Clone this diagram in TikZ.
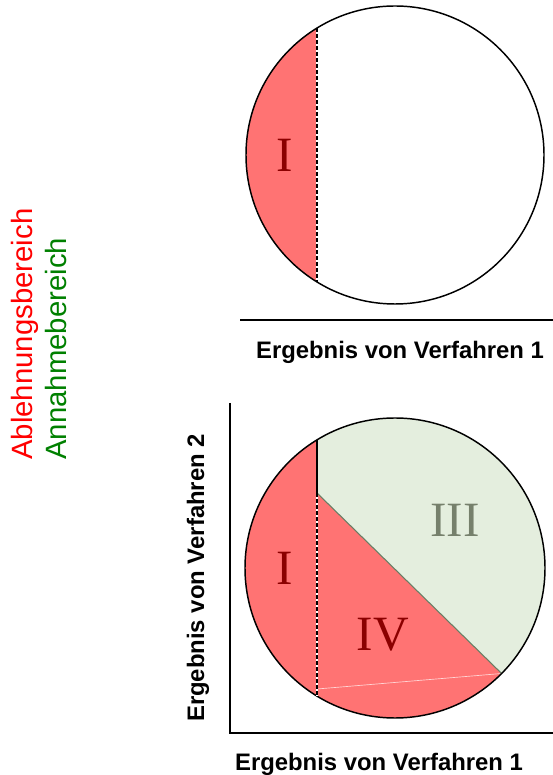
\documentclass[tikz,border=0pt]{standalone}
\usepackage{fontspec}
\setmainfont{Liberation Serif}
\newfontfamily\arial{Liberation Sans}
\definecolor{rejred}{RGB}{255,115,115}
\definecolor{accgreen}{RGB}{228,238,222}
\definecolor{numred}{RGB}{139,0,0}
\definecolor{numgray}{RGB}{118,128,108}
\definecolor{diagcol}{RGB}{105,125,100}
\definecolor{labred}{RGB}{255,0,0}
\definecolor{labgreen}{RGB}{0,128,0}
\begin{document}
\begin{tikzpicture}[x=0.75pt, y=0.75pt,
    numlabel/.style={font=\fontsize{37}{37}\selectfont, inner sep=0pt},
    axislabel/.style={font=\arial\bfseries\fontsize{17.9}{18}\selectfont, inner sep=0pt, anchor=base},
    sidelabel/.style={font=\arial\fontsize{22}{22}\selectfont, rotate=90, anchor=base west, inner sep=0pt},
    rim/.style={line width=1.1pt},
    axisline/.style={line width=1.5pt},
    cutline/.style={line width=1.4pt, dash pattern=on 3pt off 1.5pt}]
\useasboundingbox (0,0) rectangle (553,775);
% side labels
\node[sidelabel, text=labred] (ablehn) at (33,315) {Ablehnungsbereich};
\node[sidelabel, text=labgreen] (annahme) at (67,315) {Annahmebereich};
% upper picture: one test
\coordinate (c1) at (395,620);
\coordinate (top1) at (317,747.1);
\coordinate (bot1) at (317,492.9);
\fill[rejred] (top1) arc [start angle=121.57, end angle=238.43, radius=149] -- cycle;
\draw[rim] (c1) circle [radius=149];
\draw[white, line width=1.4pt] (top1) -- (bot1);
\draw[cutline] (top1) -- (bot1);
\node[numlabel, text=numred] (regIa) at (285,620) {I};
\coordinate (ax1l) at (240,455);
\coordinate (ax1r) at (553,455);
\draw[axisline] (ax1l) -- (ax1r);
\node[axislabel] (xlab1) at (400,416) {Ergebnis von Verfahren 1};
% lower picture: two tests
\coordinate (c2) at (395,207);
\coordinate (top2) at (317,335.1);
\coordinate (knick) at (317,282);
\coordinate (bot2) at (317,78.9);
\coordinate (diagend) at (501.6,101.5);
\coordinate (faint) at (317,86);
\fill[rejred] (c2) circle [radius=150];
\fill[accgreen] (knick) -- (diagend) arc [start angle=-44.7, end angle=121.33, radius=150] -- cycle;
\draw[white, opacity=0.7, line width=0.5pt] (faint) -- (diagend);
\draw[diagcol, line width=0.8pt] (knick) -- (diagend);
\draw[rim] (c2) circle [radius=150];
\draw[line width=1.1pt] (top2) -- (knick);
\draw[white, line width=1.4pt] (knick) -- (bot2);
\draw[cutline] (knick) -- (bot2);
\node[numlabel, text=numred] (regIb) at (285,207) {I};
\node[numlabel, text=numred] (regIV) at (383,140) {IV};
\node[numlabel, text=numgray] (regIII) at (455,255) {III};
\coordinate (orig) at (230,42);
\coordinate (ytop) at (230,372);
\coordinate (xend) at (553,42);
\draw[axisline] (ytop) -- (orig) -- (xend);
\node[axislabel] (xlab2) at (379,4) {Ergebnis von Verfahren 1};
\node[axislabel, rotate=90] (ylab2) at (204,197) {Ergebnis von Verfahren 2};
\end{tikzpicture}
\end{document}
